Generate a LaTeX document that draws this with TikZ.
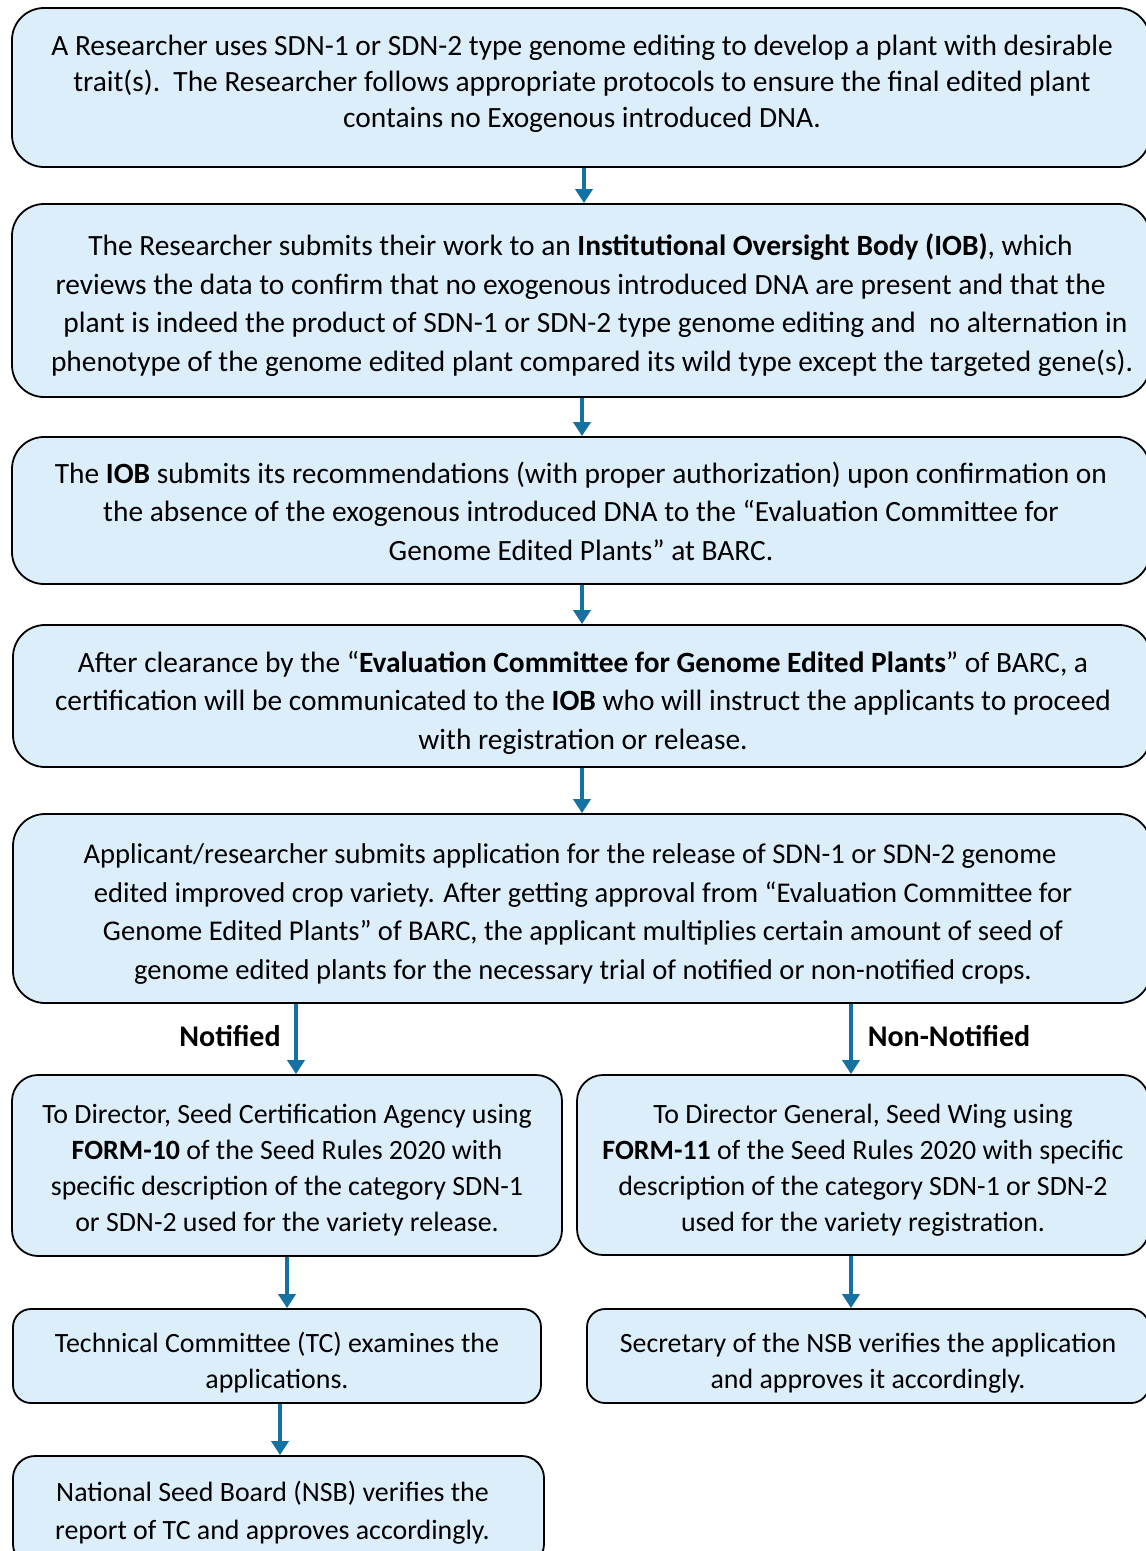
\documentclass[tikz,border=0pt]{standalone}
\usepackage{fontspec}
\setmainfont{Carlito}
\usetikzlibrary{arrows.meta,calc}
\definecolor{boxfill}{HTML}{DDEEFB}
\definecolor{arrowblue}{HTML}{1472A3}
\tikzset{
  x=1pt,y=-1pt,
  flowbox/.style={draw=black,line width=1.8pt,fill=boxfill,rounded corners=32pt,inner sep=0pt},
  smallbox/.style={flowbox,rounded corners=26pt},
  bigtext/.style={align=center,inner sep=0pt,font=\fontsize{29.4}{38.5}\selectfont},
  smalltext/.style={align=center,inner sep=0pt,font=\fontsize{27.9}{36}\selectfont},
  flowarrow/.style={draw=arrowblue,line width=4.5pt,-{Triangle[width=17pt,length=14pt]}},
  branchlabel/.style={font=\fontsize{30}{34}\selectfont\bfseries,inner sep=0pt}
}
\begin{document}
\begin{tikzpicture}
\useasboundingbox (0,0) rectangle (1146,1551);
\clip (0,0) rectangle (1146,1551);
% boxes
\node[flowbox,minimum width=1138pt,minimum height=159pt] (b1) at (581,87.5) {};
\node[flowbox,minimum width=1138pt,minimum height=193pt] (b2) at (581,300.5) {};
\node[flowbox,minimum width=1138pt,minimum height=147pt] (b3) at (581,510.5) {};
\node[flowbox,minimum width=1138pt,minimum height=142pt] (b4) at (582,696) {};
\node[flowbox,minimum width=1138pt,minimum height=189pt] (b5) at (582,908.5) {};
\node[smallbox,minimum width=550pt,minimum height=181pt] (l1) at (287,1165.5) {};
\node[smallbox,minimum width=572pt,minimum height=180pt] (r1) at (863,1165) {};
\node[smallbox,rounded corners=18pt,minimum width=528pt,minimum height=94pt] (l2) at (277,1356) {};
\node[smallbox,rounded corners=18pt,minimum width=562pt,minimum height=94pt] (r2) at (868,1356) {};
\node[smallbox,rounded corners=22pt,minimum width=531pt,minimum height=110pt] (l3) at (278.5,1511) {};
% texts
\node[bigtext,font=\fontsize{29.4}{36}\selectfont] (t1) at (582,84) {A Researcher uses SDN-1 or SDN-2 type genome editing to develop a plant with desirable\\trait(s).\ \ The Researcher follows appropriate protocols to ensure the final edited plant\\contains no Exogenous introduced DNA.};
\node[bigtext] (t2) at (588,305) {The Researcher submits their work to an \textbf{Institutional Oversight Body (IOB)}, which\hspace{15pt}\mbox{}\\reviews the data to confirm that no exogenous introduced DNA are present and that the\hspace{15pt}\mbox{}\\\hspace{15pt}plant is indeed the product of SDN-1 or SDN-2 type genome editing and\ \ no alternation in\\\hspace{8pt}phenotype of the genome edited plant compared its wild type except the targeted gene(s).};
\node[bigtext] (t3) at (581,511) {The \textbf{IOB} submits its recommendations (with proper authorization) upon confirmation on\\the absence of the exogenous introduced DNA to the “Evaluation Committee for\\Genome Edited Plants” at BARC.};
\node[bigtext] (t4) at (583,702.5) {After clearance by the “\textbf{Evaluation Committee for Genome Edited Plants}” of BARC, a\\certification will be communicated to the \textbf{IOB} who will instruct the applicants to proceed\\with registration or release.};
\node[bigtext,font=\fontsize{28.6}{38.7}\selectfont] (t5) at (583,914) {Applicant/researcher submits application for the release of SDN-1 or SDN-2 genome\hspace{26pt}\mbox{}\\edited improved crop variety. After getting approval from “Evaluation Committee for\\Genome Edited Plants” of BARC, the applicant multiplies certain amount of seed of\\genome edited plants for the necessary trial of notified or non-notified crops.};
\node[smalltext] (tl1) at (287,1170.5) {To Director, Seed Certification Agency using\\\textbf{FORM-10} of the Seed Rules 2020 with\\specific description of the category SDN-1\\or SDN-2 used for the variety release.};
\node[smalltext] (tr1) at (863,1170.5) {To Director General, Seed Wing using\\\textbf{FORM-11} of the Seed Rules 2020 with specific\\description of the category SDN-1 or SDN-2\\used for the variety registration.};
\node[smalltext] (tl2) at (277,1363) {Technical Committee (TC) examines the\\applications.};
\node[smalltext] (tr2) at (868,1363) {Secretary of the NSB verifies the application\\and approves it accordingly.};
\node[smalltext,font=\fontsize{27.9}{38}\selectfont] (tl3) at (272.5,1513) {National Seed Board (NSB) verifies the\\report of TC and approves accordingly.};
\node[branchlabel] (nl) at (230,1036) {Notified};
\node[branchlabel] (nnl) at (949,1036) {Non-Notified};
% arrows
\draw[flowarrow] (b1.south -| 584,0) -- (b2.north -| 584,0);
\draw[flowarrow] (b2.south -| 582,0) -- (b3.north -| 582,0);
\draw[flowarrow] (b3.south -| 582,0) -- (b4.north -| 582,0);
\draw[flowarrow] (b4.south -| 582,0) -- (b5.north -| 582,0);
\draw[flowarrow] (b5.south -| 296,0) -- (l1.north -| 296,0);
\draw[flowarrow] (b5.south -| 851,0) -- (r1.north -| 851,0);
\draw[flowarrow] (l1.south -| 287,0) -- (l2.north -| 287,0);
\draw[flowarrow] (r1.south -| 851,0) -- (r2.north -| 851,0);
\draw[flowarrow] (l2.south -| 280,0) -- (l3.north -| 280,0);
\end{tikzpicture}
\end{document}
